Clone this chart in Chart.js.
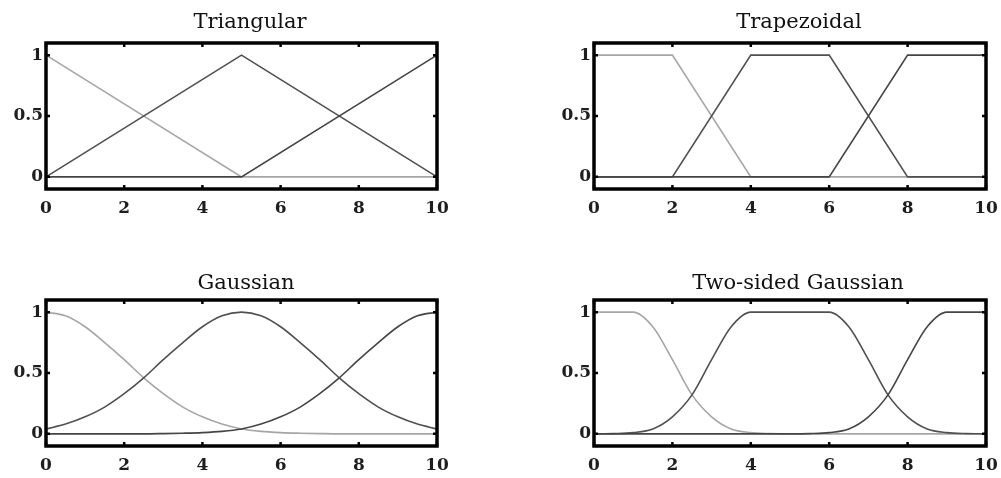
<!DOCTYPE html>
<html>
<head>
<meta charset="utf-8">
<script src="https://cdn.jsdelivr.net/npm/chart.js@4.4.1/dist/chart.umd.min.js"></script>
<style>
  html, body { margin: 0; padding: 0; background: #fff; }
  body { width: 1001px; height: 478px; overflow: hidden; position: relative; }
  .panel { position: absolute; }
</style>
</head>
<body>
<div class="panel" style="left:0px;top:0px"><canvas id="tri" width="500" height="240"></canvas></div>
<div class="panel" style="left:548px;top:0px"><canvas id="trap" width="502" height="240"></canvas></div>
<div class="panel" style="left:0px;top:257px"><canvas id="gauss" width="492" height="221"></canvas></div>
<div class="panel" style="left:548px;top:257px"><canvas id="gauss2" width="500" height="221"></canvas></div>
<script>
// membership functions, three per panel (low / mid / high)
const triX = [0, 5, 10];
const triLow = [1, 0, 0];
const triMid = [0, 1, 0];
const triHigh = [0, 0, 1];

const trapX = [0, 2, 4, 6, 8, 10];
const trapLow = [1, 1, 0, 0, 0, 0];
const trapMid = [0, 0, 1, 1, 0, 0];
const trapHigh = [0, 0, 0, 0, 1, 1];

const gaussX = [0, 0.5, 1, 1.5, 2, 2.5, 3, 3.5, 4, 4.5, 5, 5.5, 6, 6.5, 7, 7.5, 8, 8.5, 9, 9.5, 10];
const gaussLow = [1.00, 0.97, 0.88, 0.75, 0.61, 0.46, 0.33, 0.22, 0.14, 0.08, 0.04, 0.02, 0.01, 0.005, 0.002, 0, 0, 0, 0, 0, 0];
const gaussMid = [0.04, 0.08, 0.14, 0.22, 0.33, 0.46, 0.61, 0.75, 0.88, 0.97, 1.00, 0.97, 0.88, 0.75, 0.61, 0.46, 0.33, 0.22, 0.14, 0.08, 0.04];
const gaussHigh = [0, 0, 0, 0, 0, 0, 0.002, 0.005, 0.01, 0.02, 0.04, 0.08, 0.14, 0.22, 0.33, 0.46, 0.61, 0.75, 0.88, 0.97, 1.00];

const gauss2X = [0, 0.5, 1, 1.5, 2, 2.5, 3, 3.5, 4, 4.5, 5, 5.5, 6, 6.5, 7, 7.5, 8, 8.5, 9, 9.5, 10];
const gauss2Low = [1, 1, 1, 0.88, 0.61, 0.32, 0.14, 0.04, 0.01, 0.002, 0, 0, 0, 0, 0, 0, 0, 0, 0, 0, 0];
const gauss2Mid = [0, 0.002, 0.01, 0.04, 0.14, 0.32, 0.61, 0.88, 1, 1, 1, 1, 1, 0.88, 0.61, 0.32, 0.14, 0.04, 0.01, 0.002, 0];
const gauss2High = [0, 0, 0, 0, 0, 0, 0, 0, 0, 0, 0, 0.002, 0.01, 0.04, 0.14, 0.32, 0.61, 0.88, 1, 1, 1];

const xTicks = [0, 2, 4, 6, 8, 10];
const yTicks = [0, 0.5, 1];

const lineColors = ['#a6a6a6', '#505050', '#454545'];
const serif = 'DejaVu Serif';

// black box round the plot area, with short tick marks pointing inwards
const frame = {
    id: 'frame',
    afterDraw(chart) {
        const ctx = chart.ctx;
        const a = chart.chartArea;
        const xs = chart.scales.x, ys = chart.scales.y;
        ctx.save();
        ctx.strokeStyle = '#000';
        ctx.lineWidth = 2.5;
        ctx.beginPath();
        xs.ticks.forEach(t => {
            const px = xs.getPixelForValue(t.value);
            ctx.moveTo(px, a.bottom); ctx.lineTo(px, a.bottom - 4);
            ctx.moveTo(px, a.top); ctx.lineTo(px, a.top + 4);
        });
        ys.ticks.forEach(t => {
            const py = ys.getPixelForValue(t.value);
            ctx.moveTo(a.left, py); ctx.lineTo(a.left + 4, py);
            ctx.moveTo(a.right, py); ctx.lineTo(a.right - 4, py);
        });
        ctx.stroke();
        ctx.lineWidth = 3.5;
        ctx.strokeRect(a.left, a.top, a.right - a.left, a.bottom - a.top);
        ctx.restore();
    }
};

function toPoints(xs, ys) {
    return xs.map((x, i) => ({x: x, y: ys[i]}));
}

function makePanel(id, title, xs, series, smooth, box) {
    // first (light) curve goes underneath the two dark ones
    const datasets = series.map((ys, i) => ({
        data: toPoints(xs, ys),
        borderColor: lineColors[i],
        borderWidth: 1.6,
        pointRadius: 0,
        tension: 0,
        cubicInterpolationMode: smooth ? 'monotone' : 'default',
        fill: false,
        order: series.length - i
    }));

    new Chart(document.getElementById(id), {
        type: 'line',
        data: {datasets: datasets},
        options: {
            responsive: false,
            animation: false,
            events: [],
            layout: {padding: 0},
            plugins: {
                legend: {display: false},
                tooltip: {enabled: false},
                title: {
                    display: true,
                    text: title,
                    color: '#111',
                    font: {family: serif, size: 21, weight: 'normal', lineHeight: 0.6},
                    padding: {top: box.titleTop, bottom: box.titleBottom}
                }
            },
            scales: {
                x: {
                    type: 'linear',
                    min: 0,
                    max: 10,
                    afterBuildTicks: s => { s.ticks = xTicks.map(v => ({value: v})); },
                    afterFit: s => { s.height = box.xAxisH; },
                    grid: {display: false, drawTicks: false},
                    border: {display: false},
                    ticks: {
                        color: '#1e1e1e',
                        padding: 11.5,
                        maxRotation: 0,
                        font: {family: serif, size: 17, weight: 'bold', lineHeight: 1}
                    }
                },
                y: {
                    type: 'linear',
                    min: -0.1,
                    max: 1.1,
                    afterBuildTicks: s => { s.ticks = yTicks.map(v => ({value: v})); },
                    afterFit: s => { s.width = box.yAxisW; },
                    grid: {display: false, drawTicks: false},
                    border: {display: false},
                    ticks: {
                        color: '#1e1e1e',
                        padding: 3,
                        callback: v => String(v),
                        font: {family: serif, size: 17, weight: 'bold', lineHeight: 1}
                    }
                },
                // empty axis on the right, only used to reserve space
                yRight: {
                    type: 'linear',
                    position: 'right',
                    afterFit: s => { s.width = box.rightW; },
                    grid: {display: false, drawTicks: false},
                    border: {display: false},
                    ticks: {display: false}
                }
            }
        },
        plugins: [frame]
    });
}

makePanel('tri', 'Triangular', triX, [triLow, triMid, triHigh], false,
    {titleTop: 16.2, titleBottom: 14.2, xAxisH: 51, yAxisW: 46, rightW: 63});
makePanel('trap', 'Trapezoidal', trapX, [trapLow, trapMid, trapHigh], false,
    {titleTop: 16.2, titleBottom: 14.2, xAxisH: 51, yAxisW: 46, rightW: 64});
makePanel('gauss', 'Gaussian', gaussX, [gaussLow, gaussMid, gaussHigh], true,
    {titleTop: 20.2, titleBottom: 10.2, xAxisH: 32, yAxisW: 46, rightW: 55});
makePanel('gauss2', 'Two-sided Gaussian', gauss2X, [gauss2Low, gauss2Mid, gauss2High], true,
    {titleTop: 20.2, titleBottom: 10.2, xAxisH: 32, yAxisW: 46, rightW: 62});
</script>
</body>
</html>
